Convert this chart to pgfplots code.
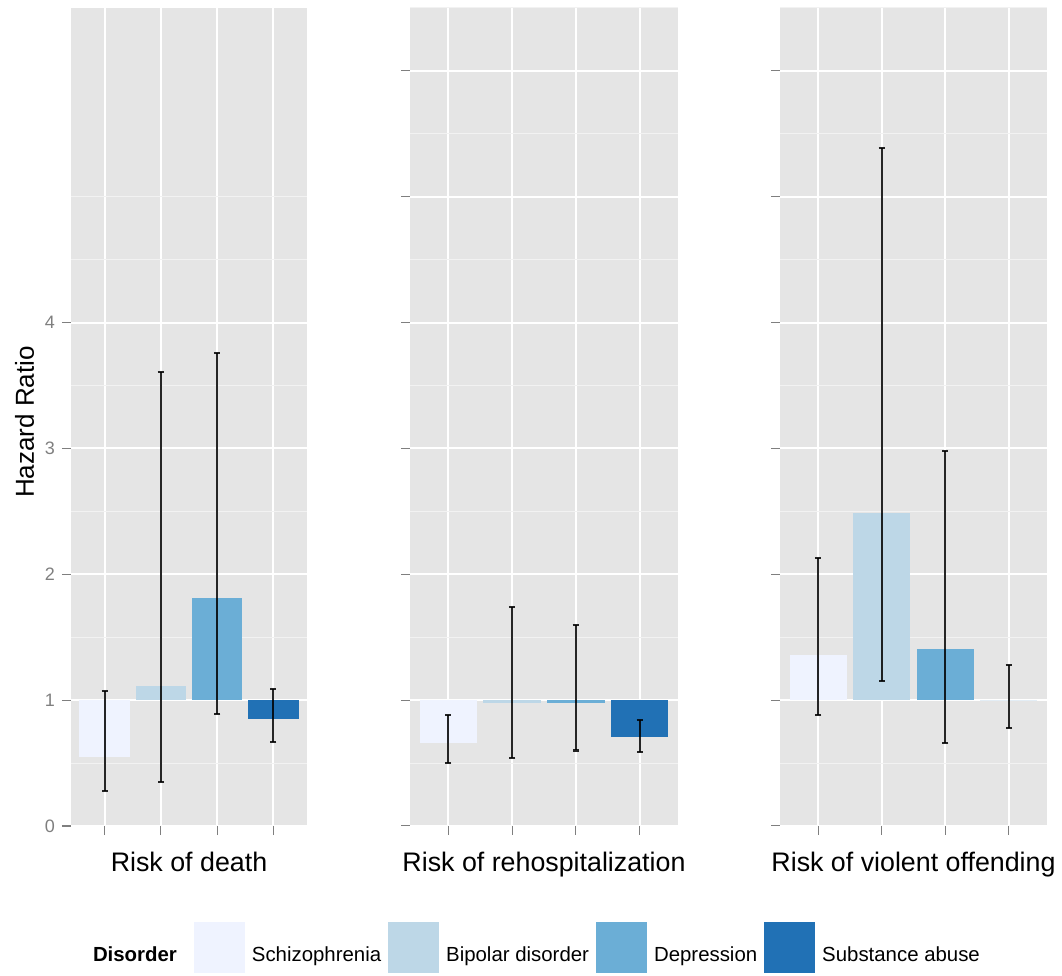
\documentclass[border=0pt]{standalone}
\usepackage{fontspec}
\setmainfont{Liberation Sans}
\usepackage{pgfplots}
\usepackage{pgfplotstable}
\pgfplotsset{compat=1.18}

\definecolor{cA}{HTML}{EFF3FF}
\definecolor{cB}{HTML}{BDD7E7}
\definecolor{cC}{HTML}{6BAED6}
\definecolor{cD}{HTML}{2171B5}
\definecolor{panelbg}{HTML}{E5E5E5}
\definecolor{minorgrid}{HTML}{F2F2F2}
\definecolor{gray50}{HTML}{7F7F7F}

% x = category, hr = hazard ratio, lo/hi = confidence interval
\pgfplotstableread{
x hr lo hi
1 0.55 0.28 1.07
2 1.11 0.35 3.61
3 1.81 0.89 3.76
4 0.85 0.67 1.09
}\death
\pgfplotstableread{
x hr lo hi
1 0.66 0.50 0.88
2 0.98 0.54 1.74
3 0.98 0.60 1.60
4 0.71 0.59 0.84
}\rehosp
\pgfplotstableread{
x hr lo hi
1 1.36 0.88 2.13
2 2.49 1.15 5.39
3 1.41 0.66 2.98
4 1.00 0.78 1.28
}\violent

\pgfplotsset{
  facet/.style={
    scale only axis, height=409pt,
    xmin=0.4, xmax=4.6, ymin=0, ymax=6.5,
    anchor=south west,
    axis background/.style={fill=panelbg},
    axis line style={draw=none},
    tick pos=left, tick align=outside,
    major tick length=4.5pt, minor tick length=0pt,
    tick style={draw=gray50, line width=0.5pt},
    xtick={1,2,3,4}, xticklabels={},
    xmajorgrids, ymajorgrids, yminorgrids,
    major grid style={draw=white, line width=1pt},
    minor grid style={draw=minorgrid, line width=0.5pt},
    every axis x label/.style={at={(axis description cs:0.5,-0.0559)}, anchor=base,
      font=\fontsize{13.4}{16}\selectfont},
    /pgf/number format/assume math mode=true,
    yticklabel style={font=\fontsize{9}{10}\selectfont, text=gray50},
  },
  errbar/.style={no markers, draw=none, forget plot,
    error bars/.cd, y dir=both, y explicit,
    error bar style={draw=black, line width=1.1pt, opacity=0.85},
    error mark=-,
    error mark options={rotate=90, draw=black, line width=1.1pt, mark size=1.6pt, opacity=0.85}},
}

\begin{document}
\begin{tikzpicture}
\path[use as bounding box] (0,0) rectangle (531pt,488pt);

% ---------- Panel 1 ----------
\begin{axis}[facet, width=118pt, at={(35.5pt,75pt)},
  ytick={0,1,2,3,4}, yticklabels={0,1,2,3,4},
  minor ytick={0.5,1.5,2.5,3.5,4.5,5},
  xlabel={Risk of death},
  ylabel={Hazard Ratio},
  every axis y label/.style={at={(axis description cs:-0.157,0.494)}, rotate=90, anchor=base,
    font=\fontsize{13}{16}\selectfont},
  legend columns=5,
  legend style={at={(axis description cs:0.0636,-0.1491)}, anchor=west,
    draw=none, fill=none, inner sep=0pt, outer sep=0pt, column sep=0pt,
    nodes={inner xsep=3.5pt, inner ysep=0pt, font=\fontsize{10.2}{12}\selectfont}},
  legend image code/.code={\fill (0pt,-9.15pt) rectangle (25.5pt,16.35pt);},
]
\addplot[fill=cA, draw=none, forget plot] coordinates {(0.55,1) (1.45,1) (1.45,0.55) (0.55,0.55)};
\addplot[fill=cB, draw=none, forget plot] coordinates {(1.55,1) (2.45,1) (2.45,1.11) (1.55,1.11)};
\addplot[fill=cC, draw=none, forget plot] coordinates {(2.55,1) (3.45,1) (3.45,1.81) (2.55,1.81)};
\addplot[fill=cD, draw=none, forget plot] coordinates {(3.55,1) (4.45,1) (4.45,0.85) (3.55,0.85)};
\addplot[errbar] table[x=x, y=hr,
  y error plus expr=\thisrow{hi}-\thisrow{hr},
  y error minus expr=\thisrow{hr}-\thisrow{lo}] {\death};
\addlegendimage{empty legend}\addlegendentry{\textbf{Disorder}\rule{5pt}{0pt}}
\addlegendimage{fill=cA, draw=none}\addlegendentry{Schizophrenia}
\addlegendimage{fill=cB, draw=none}\addlegendentry{Bipolar disorder}
\addlegendimage{fill=cC, draw=none}\addlegendentry{Depression}
\addlegendimage{fill=cD, draw=none}\addlegendentry{Substance abuse}
\end{axis}

% ---------- Panel 2 ----------
\begin{axis}[facet, width=134pt, at={(205pt,75pt)},
  ytick={0,1,2,3,4,5,6}, yticklabels={},
  minor ytick={0.5,1.5,2.5,3.5,4.5,5.5,6.5},
  xlabel={Risk of rehospitalization},
]
\addplot[fill=cA, draw=none, forget plot] coordinates {(0.55,1) (1.45,1) (1.45,0.66) (0.55,0.66)};
\addplot[fill=cB, draw=none, forget plot] coordinates {(1.55,1) (2.45,1) (2.45,0.98) (1.55,0.98)};
\addplot[fill=cC, draw=none, forget plot] coordinates {(2.55,1) (3.45,1) (3.45,0.98) (2.55,0.98)};
\addplot[fill=cD, draw=none, forget plot] coordinates {(3.55,1) (4.45,1) (4.45,0.71) (3.55,0.71)};
\addplot[errbar] table[x=x, y=hr,
  y error plus expr=\thisrow{hi}-\thisrow{hr},
  y error minus expr=\thisrow{hr}-\thisrow{lo}] {\rehosp};
\end{axis}

% ---------- Panel 3 ----------
\begin{axis}[facet, width=133.5pt, at={(390pt,75pt)},
  ytick={0,1,2,3,4,5,6}, yticklabels={},
  minor ytick={0.5,1.5,2.5,3.5,4.5,5.5,6.5},
  xlabel={Risk of violent offending},
]
\addplot[fill=cA, draw=none, forget plot] coordinates {(0.55,1) (1.45,1) (1.45,1.36) (0.55,1.36)};
\addplot[fill=cB, draw=none, forget plot] coordinates {(1.55,1) (2.45,1) (2.45,2.49) (1.55,2.49)};
\addplot[fill=cC, draw=none, forget plot] coordinates {(2.55,1) (3.45,1) (3.45,1.41) (2.55,1.41)};
\addplot[fill=cD, draw=none, forget plot] coordinates {(3.55,1) (4.45,1) (4.45,1.00) (3.55,1.00)};
\addplot[errbar] table[x=x, y=hr,
  y error plus expr=\thisrow{hi}-\thisrow{hr},
  y error minus expr=\thisrow{hr}-\thisrow{lo}] {\violent};
\end{axis}
\end{tikzpicture}
\end{document}
